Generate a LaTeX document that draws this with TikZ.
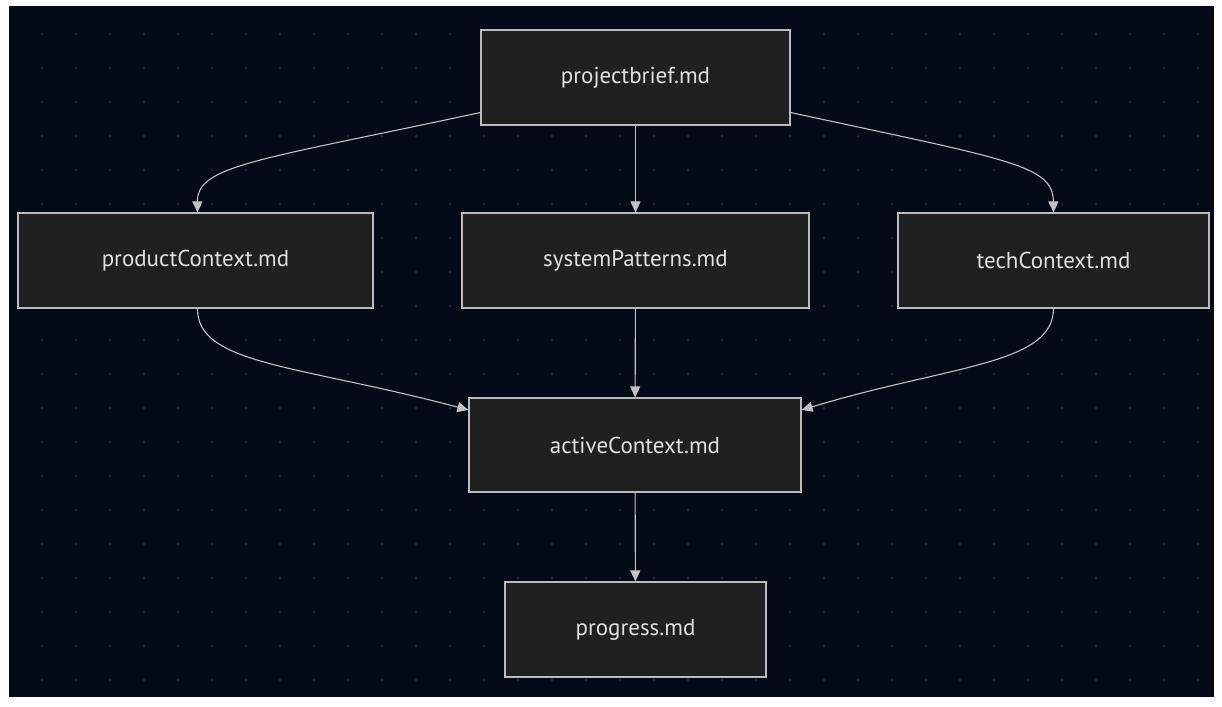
\documentclass[tikz,border=0pt]{standalone}
\usepackage{fontspec}
\setmainfont{PT Sans}
\usetikzlibrary{arrows.meta}
\definecolor{bgdark}{HTML}{050A18}
\definecolor{boxfill}{HTML}{1F2020}
\definecolor{boxline}{HTML}{BBBBBB}
\definecolor{textgrey}{HTML}{E0E0E0}
\definecolor{dotgrey}{HTML}{2A3040}

\begin{document}
\begin{tikzpicture}[x=1pt, y=-1pt,
    file/.style={draw=boxline, line width=1.2pt, fill=boxfill, text=textgrey,
      font=\fontsize{23}{26}\selectfont, inner sep=0pt},
    flow/.style={draw=boxline!90, line width=1.1pt,
      -{Triangle[length=11pt, width=10pt]}}]
  % background and dot grid
  \fill[white] (0,0) rectangle (1222,706);
  \fill[bgdark] (9,6) rectangle (1214,697);
  \foreach \gx in {42,76,...,1200}
    \foreach \gy in {34,68,...,690}
      \fill[dotgrey] (\gx,\gy) circle (1.1pt);
  % files
  \node[file, minimum width=309, minimum height=95] (brief) at (635.5,77.5) {projectbrief.md};
  \node[file, minimum width=355, minimum height=95] (product) at (195.5,260.5) {productContext.md};
  \node[file, minimum width=347, minimum height=95] (system) at (635.5,260.5) {systemPatterns.md};
  \node[file, minimum width=311, minimum height=95] (tech) at (1053.5,260.5) {techContext.md};
  \node[file, minimum width=332, minimum height=94] (active) at (635,445) {activeContext.md};
  \node[file, minimum width=261, minimum height=95] (progress) at (635.5,629.5) {progress.md};
  % connections
  \draw[flow] ([yshift=-35]brief.west) .. controls (260,160) and (197,165) .. ([xshift=2]product.north);
  \draw[flow] (brief) -- (system);
  \draw[flow] ([yshift=-35]brief.east) .. controls (1010,160) and (1053,165) .. (tech.north);
  \draw[flow] ([xshift=2]product.south) .. controls (197,365) and (300,365) .. ([yshift=35]active.west);
  \draw[flow] (system) -- (active);
  \draw[flow] (tech.south) .. controls (1053,365) and (950,365) .. ([yshift=35]active.east);
  \draw[flow] (active) -- (progress);
\end{tikzpicture}
\end{document}
